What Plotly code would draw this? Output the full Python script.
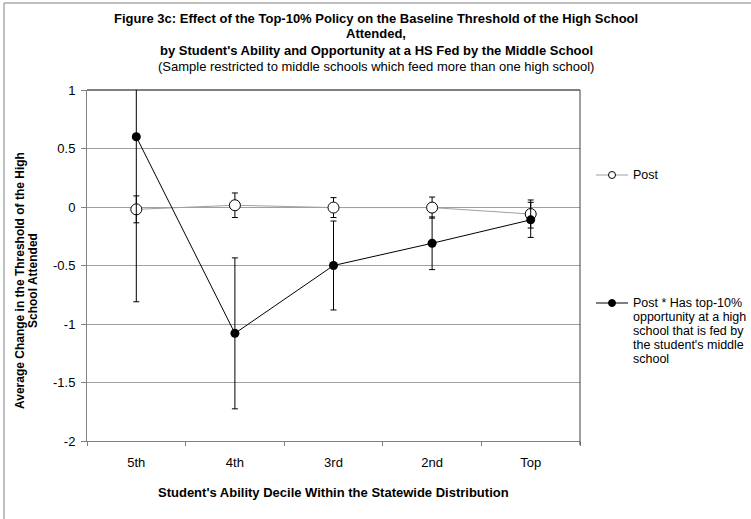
import plotly.graph_objects as go

# Ability deciles (lowest to highest)
deciles = ["5th", "4th", "3rd", "2nd", "Top"]

# Post coefficient and its error bar half-width
post = [-0.02, 0.015, -0.005, -0.005, -0.06]
post_err = [0.115, 0.105, 0.085, 0.09, 0.12]

# Post * has top-10% opportunity at a fed high school
post_opp = [0.60, -1.08, -0.50, -0.31, -0.11]
post_opp_err = [1.41, 0.645, 0.38, 0.225, 0.15]

y_ticks = [1, 0.5, 0, -0.5, -1, -1.5, -2]
y_tick_text = ["1", "0.5", "0", "-0.5", "-1", "-1.5", "-2"]

title_lines = [
    "<b>Figure 3c: Effect of the Top-10% Policy on the Baseline Threshold of the High School</b>",
    "<b>Attended,</b>",
    "<b>by Student's Ability and Opportunity at a HS Fed by the Middle School</b>",
    "(Sample restricted to middle schools which feed more than one high school)",
]
y_title_lines = [
    "<b>Average Change in the Threshold of the High</b>",
    "<b>School Attended</b>",
]
x_title = "<b>Student's Ability Decile Within the Statewide Distribution</b>"
legend_post = ["Post"]
legend_opp = [
    "Post * Has top-10%",
    "opportunity at a high",
    "school that is fed by",
    "the student's middle",
    "school",
]

W, H = 751, 519
L, R, T, B = 87, 580, 90, 441
FONT = "Liberation Sans, Arial, sans-serif"


def px(x):
    return (x - L) / (R - L)


def py(y):
    return (B - y) / (B - T)


fig = go.Figure()

fig.add_trace(go.Scatter(
    x=deciles, y=post, mode="lines+markers", name="Post",
    line=dict(color="#a0a0a0", width=1),
    marker=dict(symbol="circle", size=11, color="white",
                line=dict(color="black", width=1)),
    error_y=dict(type="data", array=post_err, color="black",
                 thickness=1, width=3),
    showlegend=False, cliponaxis=False,
))

fig.add_trace(go.Scatter(
    x=deciles, y=post_opp, mode="lines+markers",
    name="Post * Has top-10% opportunity",
    line=dict(color="black", width=1),
    marker=dict(symbol="circle", size=9, color="black"),
    error_y=dict(type="data", array=post_opp_err, color="black",
                 thickness=1, width=3),
    showlegend=False, cliponaxis=False,
))

shapes = [
    # outer frame of the chart
    dict(type="rect", xref="paper", yref="paper",
         x0=px(4), x1=px(770), y0=py(540), y1=py(3),
         line=dict(color="#808080", width=1), layer="below"),
    # plot area top and right border
    dict(type="line", xref="paper", yref="paper",
         x0=0, x1=1, y0=1, y1=1, line=dict(color="black", width=1)),
    dict(type="line", xref="paper", yref="paper",
         x0=1, x1=1, y0=py(445), y1=1, line=dict(color="#404040", width=1)),
]

annotations = []

# title, one annotation per line
for i, line in enumerate(title_lines):
    annotations.append(dict(
        xref="paper", yref="paper", x=px(376), y=py(18 + 16 * i),
        xanchor="center", yanchor="middle", showarrow=False, text=line,
        font=dict(family=FONT, size=13, color="black"),
    ))

# hand-drawn legend
leg_x0, leg_x1, leg_mid = 596, 628, 612
leg_items = [
    (175, "#a0a0a0", "white", legend_post),
    (303, "black", "black", legend_opp),
]
for y, lc, fc, lines in leg_items:
    shapes.append(dict(type="line", xref="paper", yref="paper",
                       x0=px(leg_x0), x1=px(leg_x1), y0=py(y), y1=py(y),
                       line=dict(color=lc, width=1)))
    shapes.append(dict(type="circle", xref="paper", yref="paper",
                       xsizemode="pixel", ysizemode="pixel",
                       xanchor=px(leg_mid), yanchor=py(y),
                       x0=-3.5, x1=3.5, y0=-3.5, y1=3.5,
                       fillcolor=fc, line=dict(color="black", width=1)))
    for j, text in enumerate(lines):
        annotations.append(dict(
            xref="paper", yref="paper", x=px(leg_x1 + 3), y=py(y + 14 * j),
            xanchor="left", yanchor="middle", align="left", showarrow=False,
            text=text, font=dict(family=FONT, size=12.5, color="black"),
        ))

# axis titles
annotations.append(dict(
    xref="paper", yref="paper", x=0.5, y=py(492),
    xanchor="center", yanchor="middle", showarrow=False, text=x_title,
    font=dict(family=FONT, size=13, color="black"),
))
for k, text in enumerate(y_title_lines):
    annotations.append(dict(
        xref="paper", yref="paper", x=px(20 + 13 * k), y=py(281),
        xanchor="center", yanchor="middle", showarrow=False, textangle=-90,
        text=text, font=dict(family=FONT, size=12, color="black"),
    ))

fig.update_layout(
    width=W, height=H,
    margin=dict(l=L, r=W - R, t=T, b=H - B, pad=0),
    paper_bgcolor="white", plot_bgcolor="white",
    font=dict(family=FONT, size=13, color="black"),
    shapes=shapes, annotations=annotations,
    xaxis=dict(
        type="category", categoryorder="array", categoryarray=deciles,
        range=[-0.5, 4.5], tickson="boundaries",
        ticks="outside", ticklen=4, tickcolor="#808080",
        ticklabelstandoff=9,
        showline=True, linecolor="#808080", linewidth=1,
        showgrid=False, zeroline=False,
        tickfont=dict(family=FONT, size=13, color="black"),
    ),
    yaxis=dict(
        range=[-2, 1], tickvals=y_ticks, ticktext=y_tick_text,
        ticks="outside", ticklen=5, tickcolor="#808080",
        ticklabelstandoff=3,
        showline=True, linecolor="#808080", linewidth=1,
        showgrid=True, gridcolor="#a0a0a0", gridwidth=1,
        zeroline=False,
        tickfont=dict(family=FONT, size=13, color="black"),
    ),
)

fig.write_html("out.html")
